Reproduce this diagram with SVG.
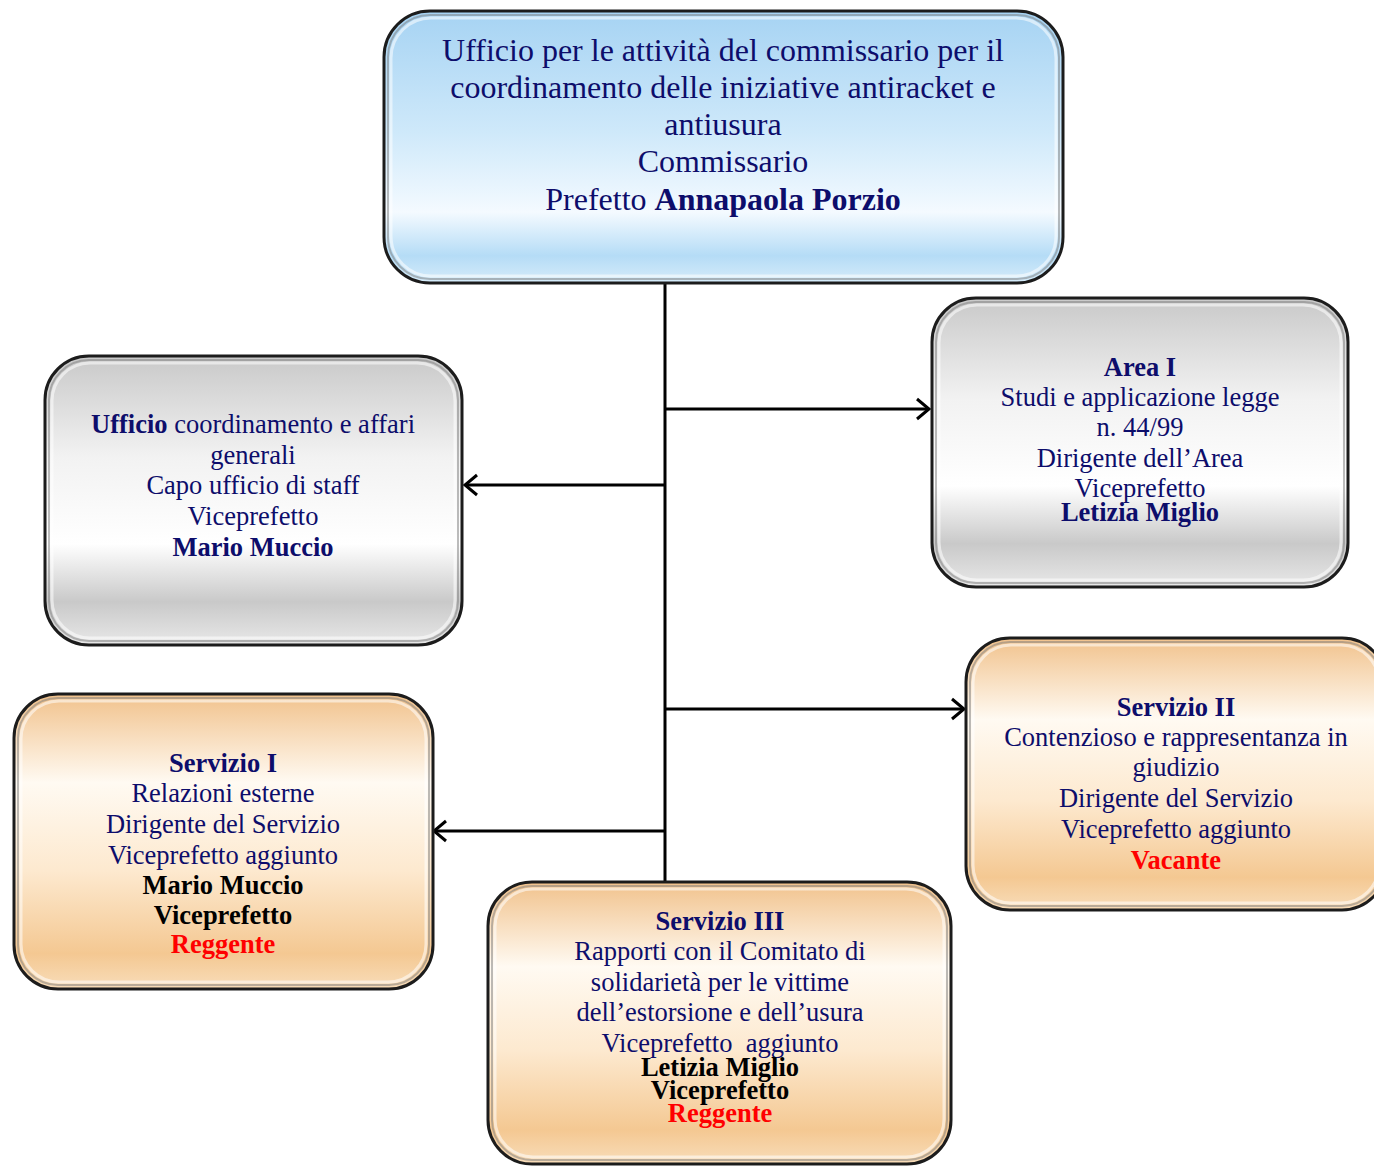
<svg xmlns="http://www.w3.org/2000/svg" width="1374" height="1167" viewBox="0 0 1374 1167">
<defs>
<linearGradient id="gBlue" x1="0" y1="0" x2="0" y2="1">
<stop offset="0" stop-color="#a6d3f3"/>
<stop offset="0.45" stop-color="#cfe9fa"/>
<stop offset="0.74" stop-color="#f4faff"/>
<stop offset="0.9" stop-color="#b5dcf6"/>
<stop offset="1" stop-color="#d6ecfa"/>
</linearGradient>
<linearGradient id="gGray" x1="0" y1="0" x2="0" y2="1">
<stop offset="0" stop-color="#c9c9c9"/>
<stop offset="0.35" stop-color="#f2f2f2"/>
<stop offset="0.65" stop-color="#ffffff"/>
<stop offset="0.85" stop-color="#c9c9c9"/>
<stop offset="1" stop-color="#e8e8e8"/>
</linearGradient>
<linearGradient id="gOrange" x1="0" y1="0" x2="0" y2="1">
<stop offset="0" stop-color="#f1c28c"/>
<stop offset="0.3" stop-color="#fffaf2"/>
<stop offset="0.6" stop-color="#fde9cf"/>
<stop offset="0.88" stop-color="#f4c892"/>
<stop offset="1" stop-color="#f8ddba"/>
</linearGradient>
<marker id="arr" markerWidth="16" markerHeight="24" refX="13" refY="12" orient="auto" markerUnits="userSpaceOnUse">
<path d="M1,2 L13,12 L1,22" fill="none" stroke="#000" stroke-width="3"/>
</marker>
</defs>
<style>
.box{stroke:#1c1c1c;stroke-width:3}
.bevel{fill:none;stroke:#ffffff;stroke-opacity:0.55;stroke-width:3}
.shade{fill:none;stroke:#7a7a7a;stroke-opacity:0.5;stroke-width:2}
text{font-family:"Liberation Serif","Times New Roman",serif;text-anchor:middle;fill:#0d0d6b}
.t30{font-size:32px}
.t25{font-size:26.5px}
.b{font-weight:bold}
.k{fill:#000000}
.r{fill:#ff0000}
.conn{stroke:#000;stroke-width:3;fill:none}
</style>
<rect width="1374" height="1167" fill="#ffffff"/>

<g id="connectors">
<line class="conn" x1="665" y1="283" x2="665" y2="882"/>
<line class="conn" x1="665" y1="409" x2="929" y2="409" marker-end="url(#arr)"/>
<line class="conn" x1="665" y1="485" x2="465" y2="485" marker-end="url(#arr)"/>
<line class="conn" x1="665" y1="709" x2="964" y2="709" marker-end="url(#arr)"/>
<line class="conn" x1="665" y1="831" x2="434" y2="831" marker-end="url(#arr)"/>
</g>

<g id="node-top">
<rect class="box" x="384" y="11" width="679" height="272" rx="46" fill="url(#gBlue)"/>
<rect class="shade" x="388" y="15" width="671" height="264" rx="42"/>
<rect class="bevel" x="391" y="18" width="665" height="258" rx="40"/>
<text class="t30" x="723" y="61">Ufficio per le attività del commissario per il</text>
<text class="t30" x="723" y="98">coordinamento delle iniziative antiracket e</text>
<text class="t30" x="723" y="135">antiusura</text>
<text class="t30" x="723" y="172">Commissario</text>
<text class="t30" x="723" y="210">Prefetto <tspan class="b">Annapaola Porzio</tspan></text>
</g>

<g id="node-ufficio">
<rect class="box" x="45" y="356" width="417" height="289" rx="44" fill="url(#gGray)"/>
<rect class="shade" x="49" y="360" width="409" height="281" rx="40"/>
<rect class="bevel" x="52" y="363" width="403" height="275" rx="38"/>
<text class="t25" x="253" y="433"><tspan class="b">Ufficio</tspan> coordinamento e affari</text>
<text class="t25" x="253" y="464">generali</text>
<text class="t25" x="253" y="494">Capo ufficio di staff</text>
<text class="t25" x="253" y="525">Viceprefetto</text>
<text class="t25 b" x="253" y="556">Mario Muccio</text>
</g>

<g id="node-area1">
<rect class="box" x="932" y="298" width="416" height="289" rx="44" fill="url(#gGray)"/>
<rect class="shade" x="936" y="302" width="408" height="281" rx="40"/>
<rect class="bevel" x="939" y="305" width="402" height="275" rx="38"/>
<text class="t25 b" x="1140" y="376">Area I</text>
<text class="t25" x="1140" y="406">Studi e applicazione legge</text>
<text class="t25" x="1140" y="436">n. 44/99</text>
<text class="t25" x="1140" y="467">Dirigente dell’Area</text>
<text class="t25" x="1140" y="497">Viceprefetto</text>
<text class="t25 b" x="1140" y="521">Letizia Miglio</text>
</g>

<g id="node-servizio1">
<rect class="box" x="14" y="694" width="419" height="295" rx="44" fill="url(#gOrange)"/>
<rect class="shade" x="18" y="698" width="411" height="287" rx="40"/>
<rect class="bevel" x="21" y="701" width="405" height="281" rx="38"/>
<text class="t25 b" x="223" y="772">Servizio I</text>
<text class="t25" x="223" y="802">Relazioni esterne</text>
<text class="t25" x="223" y="833">Dirigente del Servizio</text>
<text class="t25" x="223" y="864">Viceprefetto aggiunto</text>
<text class="t25 b k" x="223" y="894">Mario Muccio</text>
<text class="t25 b k" x="223" y="924">Viceprefetto</text>
<text class="t25 b r" x="223" y="953">Reggente</text>
</g>

<g id="node-servizio2">
<rect class="box" x="966" y="638" width="420" height="272" rx="44" fill="url(#gOrange)"/>
<rect class="shade" x="970" y="642" width="412" height="264" rx="40"/>
<rect class="bevel" x="973" y="645" width="406" height="258" rx="38"/>
<text class="t25 b" x="1176" y="716">Servizio II</text>
<text class="t25" x="1176" y="746">Contenzioso e rappresentanza in</text>
<text class="t25" x="1176" y="776">giudizio</text>
<text class="t25" x="1176" y="807">Dirigente del Servizio</text>
<text class="t25" x="1176" y="838">Viceprefetto aggiunto</text>
<text class="t25 b r" x="1176" y="869">Vacante</text>
</g>

<g id="node-servizio3">
<rect class="box" x="488" y="882" width="463" height="282" rx="44" fill="url(#gOrange)"/>
<rect class="shade" x="492" y="886" width="455" height="274" rx="40"/>
<rect class="bevel" x="495" y="889" width="449" height="268" rx="38"/>
<text class="t25 b" x="720" y="930">Servizio III</text>
<text class="t25" x="720" y="960">Rapporti con il Comitato di</text>
<text class="t25" x="720" y="991">solidarietà per le vittime</text>
<text class="t25" x="720" y="1021">dell’estorsione e dell’usura</text>
<text class="t25" x="720" y="1052" xml:space="preserve">Viceprefetto  aggiunto</text>
<text class="t25 b k" x="720" y="1076">Letizia Miglio</text>
<text class="t25 b k" x="720" y="1099">Viceprefetto</text>
<text class="t25 b r" x="720" y="1122">Reggente</text>
</g>
</svg>
